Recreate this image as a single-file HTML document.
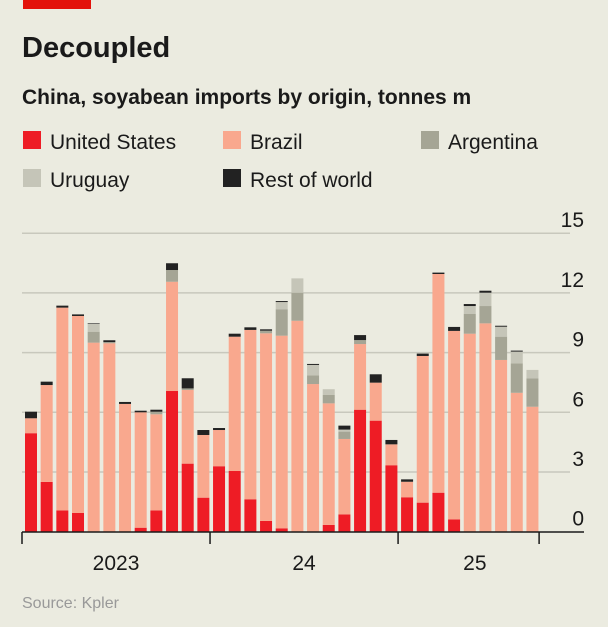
<!DOCTYPE html>
<html><head><meta charset="utf-8">
<style>
html,body{margin:0;padding:0;background:#ebebe0;}
body{width:608px;height:627px;overflow:hidden;position:relative;font-family:"Liberation Sans",sans-serif;color:#1a1a1a;}
svg{position:absolute;left:0;top:0;}
</style></head>
<body>
<svg width="608" height="627">
<rect x="23" y="0" width="68" height="9" fill="#e3120b"/>
<text x="22" y="57" font-size="29" font-weight="bold" fill="#1a1a1a">Decoupled</text>
<text x="22" y="104" font-size="21" font-weight="bold" fill="#1a1a1a">China, soyabean imports by origin, tonnes m</text>
<g id="legend"></g>
<g id="grid"></g>
<g id="bars"></g>
<g id="axis"></g>
<text x="22" y="608" font-size="16" fill="#999">Source: Kpler</text>
</svg>
<script>
const seriesNames = ["United States","Brazil","Argentina","Uruguay","Rest of world"];
const colors = ["#ee1c25","#f9a88e","#a5a595","#c5c5b8","#222222"];
const us  = [4.95,2.5,1.07,0.94,0,0,0,0.2,1.07,7.07,3.42,1.71, 3.29,3.05,1.63,0.54,0.17,0,0,0.34,0.87,6.13,5.58,3.34, 1.73,1.46,1.96,0.62,0,0,0,0,0];
const br  = [0.75,4.87,10.19,9.9,9.5,9.47,6.42,5.8,4.83,5.49,3.7,3.15, 1.82,6.75,8.51,9.43,9.68,10.6,7.42,6.11,3.79,3.3,1.91,1.05, 0.78,7.37,10.99,9.47,9.95,10.47,8.63,6.98,6.28];
const ar  = [0,0,0,0,0.55,0.06,0,0,0.13,0.59,0.08,0, 0,0,0,0.13,1.33,1.41,0.44,0.42,0.37,0.2,0,0, 0,0,0,0,0.99,0.87,1.17,1.48,1.43];
const uy  = [0,0,0,0,0.39,0,0,0,0,0,0,0, 0,0,0,0,0.36,0.72,0.52,0.29,0.1,0,0,0, 0,0,0,0,0.4,0.67,0.5,0.59,0.42];
const rw  = [0.33,0.17,0.1,0.08,0.03,0.09,0.1,0.08,0.1,0.34,0.51,0.25, 0.1,0.15,0.13,0.07,0.05,0,0.05,0,0.2,0.25,0.42,0.22, 0.12,0.12,0.07,0.2,0.1,0.1,0.05,0.05,0];
const yTicks = [0,3,6,9,12,15];
const yearLabels = ["2023","24","25"];
const NS="http://www.w3.org/2000/svg";
const y0=531.7, unit=19.9, x0=22, step=15.67, bw=12;
const yS=v=>y0-v*unit;
const xS=i=>x0+3+i*step;
function mk(tag,attrs,parent){const e=document.createElementNS(NS,tag);for(const k in attrs)e.setAttribute(k,attrs[k]);parent.appendChild(e);return e;}
const lg=document.getElementById('legend');
const lpos=[[22,131],[222,131],[420,131],[22,169],[222,169]];
seriesNames.forEach((n,i)=>{
  const r=mk('rect',{x:lpos[i][0]+1,y:lpos[i][1],width:18,height:18,fill:colors[i]},lg);
  
  
  const t=mk('text',{x:lpos[i][0]+28,y:lpos[i][1]+18,'font-size':21,fill:'#1a1a1a'},lg);
  t.textContent=n;
  
  
});
const g=document.getElementById('grid');
yTicks.forEach(v=>{
  if(v>0){const l=mk('line',{x1:22,x2:570,y1:yS(v),y2:yS(v),stroke:'#c8c8bd','stroke-width':1.5},g);
  
  }
  const t=mk('text',{x:584,y:yS(v)-6,'font-size':21,'text-anchor':'end',fill:'#1a1a1a'},g);
  t.textContent=v;
  
  
});
const b=document.getElementById('bars');
const stacks=[us,br,ar,uy,rw];
for(let i=0;i<us.length;i++){
  let acc=0;
  stacks.forEach((s,k)=>{
    const v=s[i]; if(v<=0) return;
    const r=mk('rect',{x:xS(i),y:yS(acc+v),width:bw,height:v*unit,fill:colors[k]},b);
    
    
    acc+=v;
  });
}
const a=document.getElementById('axis');
mk('line',{x1:22,x2:584,y1:532,y2:532,stroke:'#1a1a1a','stroke-width':1.5},a);
[0,12,24,33].forEach(m=>{
  const xx=x0+m*step;
  const l=mk('line',{x1:xx,x2:xx,y1:532,y2:544,stroke:'#1a1a1a','stroke-width':1.5},a);
  
  
});
yearLabels.forEach((lab,i)=>{
  const xx=x0+(i*12+ (i<2?6:4.9))*step;
  const t=mk('text',{x:xx,y:570,'font-size':21,'text-anchor':'middle',fill:'#1a1a1a'},a);
  t.textContent=lab;
  
  
});
</script>
</body></html>
